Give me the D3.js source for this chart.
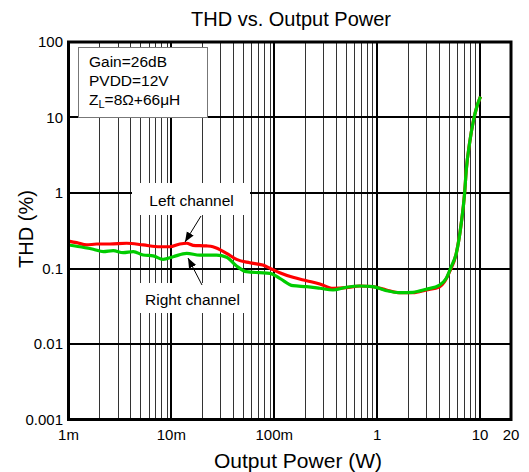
<!DOCTYPE html>
<html><head><meta charset="utf-8">
<script src="https://cdn.jsdelivr.net/npm/d3@7"></script>
<style>body{margin:0;background:#fff}svg{display:block}text{font-family:Arial,"Liberation Sans",sans-serif;fill:#000}</style>
</head><body><svg id="c" width="529" height="472"></svg>
<script>
const title = "THD vs. Output Power";
const xLabel = "Output Power (W)";
const yLabel = "THD (%)";
const xTickValues = [0.001, 0.01, 0.1, 1, 10, 20];
const xTickLabels = ["1m", "10m", "100m", "1", "10", "20"];
const yTickValues = [0.001, 0.01, 0.1, 1, 10, 100];
const yTickLabels = ["0.001", "0.01", "0.1", "1", "10", "100"];
const legendLines = ["Gain=26dB", "PVDD=12V"];

const leftPower = [0.001,0.0012,0.0015,0.00188,0.00253,0.00367,0.00532,0.00773,0.00966,0.0121,0.0141,0.0162,0.022,0.0253,0.0344,0.043,0.0578,0.0773,0.0904,0.113,0.152,0.206,0.277,0.372,0.502,0.676,0.91,1.23,1.65,2.23,3.0,4.05,4.52,5.06,5.88,6.57,7.08,7.35,7.91,8.65,9.31,10.1];
const leftTHD = [0.231,0.22,0.205,0.211,0.211,0.216,0.205,0.194,0.194,0.211,0.216,0.203,0.199,0.194,0.159,0.132,0.119,0.111,0.101,0.088,0.0764,0.0689,0.0624,0.0547,0.0557,0.0586,0.0574,0.0519,0.0478,0.0478,0.0519,0.0574,0.0669,0.0907,0.159,0.397,0.99,2.02,4.55,9.27,13.9,18.9];
const rightPower = [0.001,0.00129,0.00174,0.00218,0.00272,0.0034,0.00426,0.00532,0.00665,0.00832,0.0104,0.0141,0.0189,0.0275,0.0344,0.043,0.0537,0.0722,0.0904,0.113,0.152,0.206,0.277,0.372,0.502,0.676,0.91,1.23,1.65,2.23,3.0,4.05,4.7,5.25,5.88,6.57,7.08,7.35,7.91,8.65,9.31,10.1];
const rightTHD = [0.205,0.194,0.18,0.167,0.172,0.162,0.167,0.151,0.147,0.132,0.143,0.159,0.15,0.15,0.141,0.108,0.0907,0.088,0.0864,0.0741,0.0592,0.0574,0.0547,0.0519,0.0564,0.0586,0.0574,0.0508,0.0478,0.0484,0.0531,0.0604,0.0741,0.106,0.159,0.397,0.99,2.02,4.55,9.27,13.9,18.9];

const svg = d3.select("#c");
const L = 68.5, R = 511, T = 42, B = 419.5;
const x = d3.scaleLog().domain([0.001, 20]).range([L, R]);
const y = d3.scaleLog().domain([0.001, 100]).range([B, T]);
const px = v => Math.round(v) + 0.5;

// minor vertical grid
const minorX = [];
for (let d = 0.001; d < 10; d *= 10) for (let k = 2; k <= 9; k++) minorX.push(d * k);
svg.append("g").selectAll("line").data(minorX).join("line")
  .attr("x1", d => px(x(d))).attr("x2", d => px(x(d))).attr("y1", T).attr("y2", B)
  .attr("stroke", "#333").attr("stroke-width", 1).attr("shape-rendering", "crispEdges");
// major vertical grid
svg.append("g").selectAll("line").data([0.01, 0.1, 1, 10]).join("line")
  .attr("x1", d => Math.round(x(d))).attr("x2", d => Math.round(x(d))).attr("y1", T).attr("y2", B)
  .attr("stroke", "#000").attr("stroke-width", 2).attr("shape-rendering", "crispEdges");
// major horizontal grid
svg.append("g").selectAll("line").data([0.01, 0.1, 1, 10]).join("line")
  .attr("x1", L).attr("x2", R).attr("y1", d => Math.round(y(d))).attr("y2", d => Math.round(y(d)))
  .attr("stroke", "#000").attr("stroke-width", 2).attr("shape-rendering", "crispEdges");

// legend box
const lg = svg.append("g");
lg.append("rect").attr("x", 78.5).attr("y", 47.5).attr("width", 129).attr("height", 70)
  .attr("fill", "#fff").attr("stroke", "#777").attr("stroke-width", 1);
legendLines.forEach((t, i) => lg.append("text").attr("x", 89).attr("y", 67 + i * 19)
  .attr("font-size", 15.5).text(t));
const zt = lg.append("text").attr("x", 89).attr("y", 105).attr("font-size", 15.5);
zt.append("tspan").text("Z");
zt.append("tspan").attr("font-size", 11).attr("dy", 3).text("L");
zt.append("tspan").attr("dy", -3).text("=8Ω+66μH");

// annotation boxes
svg.append("rect").attr("x", 132).attr("y", 183).attr("width", 118).attr("height", 32).attr("fill", "#fff");
svg.append("rect").attr("x", 132).attr("y", 283).attr("width", 118).attr("height", 30).attr("fill", "#fff");

// curves
const line = d3.line().x(d => x(d[0])).y(d => y(d[1])).curve(d3.curveMonotoneX);
svg.append("path").datum(leftPower.map((p, i) => [p, leftTHD[i]])).attr("d", line)
  .attr("fill", "none").attr("stroke", "#ff0000").attr("stroke-width", 3.2).attr("stroke-linejoin", "round");
svg.append("path").datum(rightPower.map((p, i) => [p, rightTHD[i]])).attr("d", line)
  .attr("fill", "none").attr("stroke", "#00cc00").attr("stroke-width", 3.2).attr("stroke-linejoin", "round");

// frame
svg.append("rect").attr("x", L).attr("y", T).attr("width", R - L).attr("height", B - T)
  .attr("fill", "none").attr("stroke", "#000").attr("stroke-width", 3);

// annotations
const defs = svg.append("defs");
defs.append("marker").attr("id", "ah").attr("viewBox", "0 0 10 10").attr("refX", 10).attr("refY", 5)
  .attr("markerWidth", 10).attr("markerHeight", 10).attr("markerUnits", "userSpaceOnUse").attr("orient", "auto")
  .append("path").attr("d", "M0,1 L10,5 L0,9 Z").attr("fill", "#000");
svg.append("text").attr("x", 191.5).attr("y", 206).attr("text-anchor", "middle").attr("font-size", 15.5).text("Left channel");
svg.append("line").attr("x1", 201).attr("y1", 216).attr("x2", 185).attr("y2", 242)
  .attr("stroke", "#000").attr("stroke-width", 1).attr("marker-end", "url(#ah)");
svg.append("text").attr("x", 192.5).attr("y", 305).attr("text-anchor", "middle").attr("font-size", 15.5).text("Right channel");
svg.append("line").attr("x1", 202).attr("y1", 285).attr("x2", 188).attr("y2", 258)
  .attr("stroke", "#000").attr("stroke-width", 1).attr("marker-end", "url(#ah)");

// axes labels
svg.append("g").selectAll("text").data(yTickValues).join("text")
  .attr("x", 63).attr("y", d => y(d)).attr("dy", "0.35em").attr("text-anchor", "end")
  .attr("font-size", 15).text((d, i) => yTickLabels[i]);
svg.append("g").selectAll("text").data(xTickValues).join("text")
  .attr("x", d => x(d)).attr("y", 440).attr("text-anchor", "middle")
  .attr("font-size", 15).text((d, i) => xTickLabels[i]);
svg.append("text").attr("x", 291).attr("y", 26).attr("text-anchor", "middle").attr("font-size", 20).text(title);
svg.append("text").attr("x", 298).attr("y", 468).attr("text-anchor", "middle").attr("font-size", 21).text(xLabel);
svg.append("text").attr("transform", "translate(33,229) rotate(-90)").attr("text-anchor", "middle").attr("font-size", 20).text(yLabel);
</script></body></html>
